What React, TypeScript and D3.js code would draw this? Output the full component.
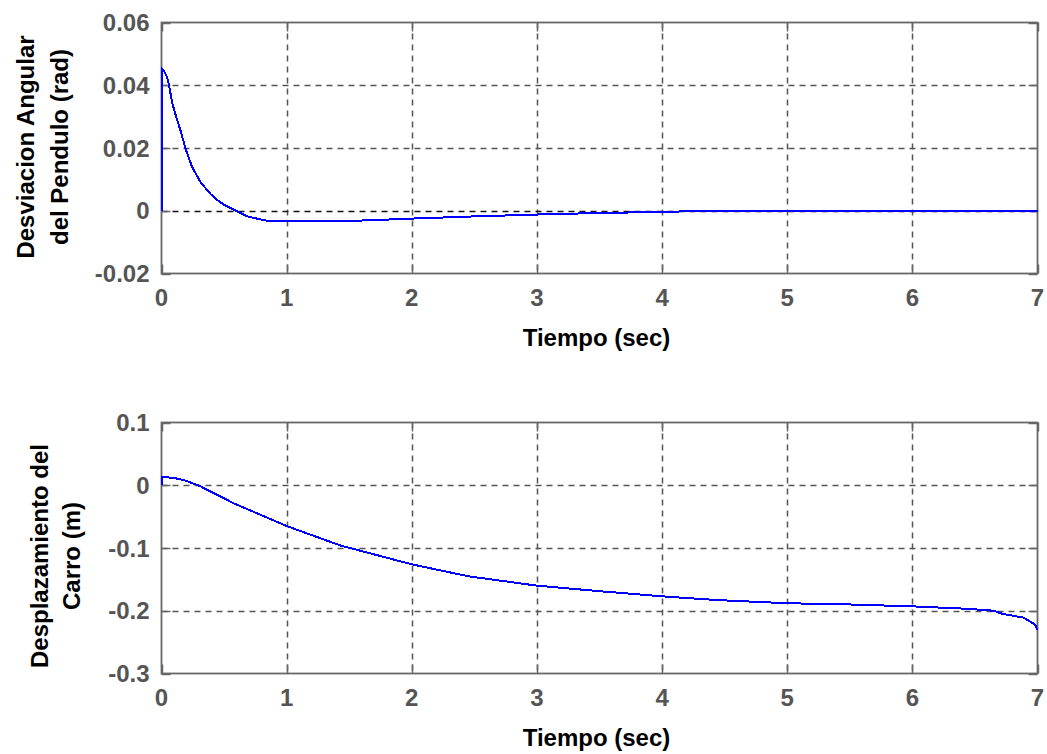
import React from "react";
import * as d3 from "d3";

const T_TOP = [0, 0, 0.018, 0.04, 0.058, 0.085, 0.12, 0.152, 0.192, 0.245, 0.312, 0.39, 0.45, 0.5, 0.58, 0.685, 0.83, 1.0, 1.62, 2.0, 2.5, 3.18, 3.8, 4.32, 5, 6, 7];
const ANGLE = [0, 0.0453, 0.0447, 0.043, 0.0405, 0.0345, 0.0295, 0.0256, 0.0198, 0.0139, 0.0091, 0.0054, 0.0033, 0.0019, 0.0003, -0.0018, -0.0031, -0.0034, -0.0031, -0.0025, -0.0018, -0.001, -0.0005, -0.0001, 0, 0, 0];

const T_BOT = [0, 0, 0.1, 0.2, 0.31, 0.58, 1.0, 1.43, 2.0, 2.45, 3.0, 3.51, 4.0, 4.44, 5.0, 5.5, 6.0, 6.45, 6.65, 6.72, 6.89, 6.98, 7.0];
const DISP = [0, 0.0132, 0.0117, 0.0069, -0.0016, -0.029, -0.065, -0.096, -0.126, -0.145, -0.16, -0.169, -0.177, -0.183, -0.188, -0.19, -0.193, -0.197, -0.2, -0.205, -0.211, -0.222, -0.231];

const X_TICKS = [0, 1, 2, 3, 4, 5, 6, 7];
const Y_TICKS_TOP = [-0.02, 0, 0.02, 0.04, 0.06];
const Y_LABELS_TOP = ["-0.02", "0", "0.02", "0.04", "0.06"];
const Y_TICKS_BOT = [-0.3, -0.2, -0.1, 0, 0.1];
const Y_LABELS_BOT = ["-0.3", "-0.2", "-0.1", "0", "0.1"];

const FONT = "'Liberation Sans', Arial, Helvetica, sans-serif";
const AXIS_COLOR = "#666";
const TICK_COLOR = "#555";
const GRID_COLOR = "#555";

type PanelProps = {
  top: number;
  bottom: number;
  t: number[];
  v: number[];
  yDomain: [number, number];
  yTicks: number[];
  yLabels: string[];
  ylabel: string[];
  ylabelX: number[];
  ylabelCy: number;
  xlabelY: number;
  zeroBlack: boolean;
};

const LEFT = 161.5;
const RIGHT = 1037.5;

function Panel(p: PanelProps) {
  const x = d3.scaleLinear().domain([0, 7]).range([LEFT, RIGHT]);
  const y = d3.scaleLinear().domain(p.yDomain).range([p.bottom, p.top]);
  const pts: [number, number][] = p.t.map((tt, i) => [tt, p.v[i]]);
  const line = d3
    .line<[number, number]>()
    .x((d) => x(d[0]))
    .y((d) => y(d[1]));
  const tickLen = 9;
  return (
    <g>
      {/* grid */}
      {X_TICKS.slice(1, -1).map((tk) => (
        <line key={"gx" + tk} x1={Math.round(x(tk)) + 0.5} x2={Math.round(x(tk)) + 0.5} y1={p.top} y2={p.bottom}
          stroke={GRID_COLOR} strokeWidth={1.5} strokeDasharray="6,5" />
      ))}
      {p.yTicks.slice(1, -1).map((tk) => (
        <line key={"gy" + tk} x1={LEFT} x2={RIGHT} y1={Math.round(y(tk)) + 0.5} y2={Math.round(y(tk)) + 0.5}
          stroke={p.zeroBlack && tk === 0 ? "#111" : GRID_COLOR} strokeWidth={1.5} strokeDasharray="6,5" />
      ))}
      {/* ticks */}
      {X_TICKS.map((tk) => (
        <g key={"tx" + tk}>
          <line x1={Math.round(x(tk)) + 0.5} x2={Math.round(x(tk)) + 0.5} y1={p.bottom} y2={p.bottom - tickLen} stroke={AXIS_COLOR} strokeWidth={1.5} />
          <line x1={Math.round(x(tk)) + 0.5} x2={Math.round(x(tk)) + 0.5} y1={p.top} y2={p.top + tickLen} stroke={AXIS_COLOR} strokeWidth={1.5} />
          <text x={x(tk)} y={p.bottom + 32} textAnchor="middle" fontFamily={FONT} fontWeight="bold" fontSize={24} fill={TICK_COLOR}>
            {tk}
          </text>
        </g>
      ))}
      {p.yTicks.map((tk, i) => (
        <g key={"ty" + tk}>
          <line x1={LEFT} x2={LEFT + tickLen} y1={Math.round(y(tk)) + 0.5} y2={Math.round(y(tk)) + 0.5} stroke={AXIS_COLOR} strokeWidth={1.5} />
          <line x1={RIGHT} x2={RIGHT - tickLen} y1={Math.round(y(tk)) + 0.5} y2={Math.round(y(tk)) + 0.5} stroke={AXIS_COLOR} strokeWidth={1.5} />
          <text x={LEFT - 12} y={y(tk) + 8.5} textAnchor="end" fontFamily={FONT} fontWeight="bold" fontSize={24} fill={TICK_COLOR}>
            {p.yLabels[i]}
          </text>
        </g>
      ))}
      {/* box */}
      <rect x={LEFT} y={p.top} width={RIGHT - LEFT} height={p.bottom - p.top} fill="none" stroke={AXIS_COLOR} strokeWidth={1.8} />
      {/* data */}
      <path d={line(pts) || ""} fill="none" stroke="#0000ff" strokeWidth={2} shapeRendering="crispEdges" />
      {/* labels */}
      <text x={(LEFT + RIGHT) / 2 - 3} y={p.xlabelY} textAnchor="middle" fontFamily={FONT} fontWeight="bold" fontSize={24} fill="#000">
        Tiempo (sec)
      </text>
      {p.ylabel.map((s, i) => (
        <text key={s} transform={`translate(${p.ylabelX[i]},${p.ylabelCy}) rotate(-90)`} textAnchor="middle"
          fontFamily={FONT} fontWeight="bold" fontSize={24} fill="#000">
          {s}
        </text>
      ))}
    </g>
  );
}

export default function App() {
  return (
    <svg width={1047} height={754} style={{ position: "absolute", left: 0, top: 0, background: "#fff" }}>
      <rect width={1047} height={754} fill="#fff" />
      <Panel top={22.5} bottom={273.5} t={T_TOP} v={ANGLE} yDomain={[-0.02, 0.06]} yTicks={Y_TICKS_TOP} yLabels={Y_LABELS_TOP}
        ylabel={["Desviacion Angular", "del Pendulo (rad)"]} ylabelX={[34, 68]} ylabelCy={147} xlabelY={346} zeroBlack={true} />
      <Panel top={422.5} bottom={673.5} t={T_BOT} v={DISP} yDomain={[-0.3, 0.1]} yTicks={Y_TICKS_BOT} yLabels={Y_LABELS_BOT}
        ylabel={["Desplazamiento del", "Carro (m)"]} ylabelX={[48, 80]} ylabelCy={556} xlabelY={746} zeroBlack={false} />
    </svg>
  );
}
